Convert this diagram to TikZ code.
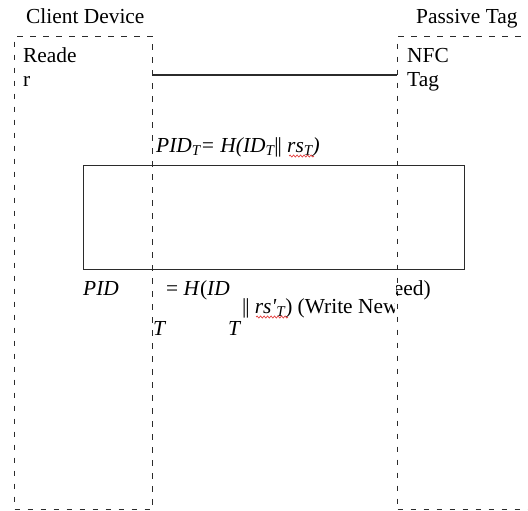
\documentclass[tikz,border=0pt]{standalone}
\usepackage{fontspec}
\setmainfont{Liberation Serif}
\usepackage{tikz}
\usetikzlibrary{calc,positioning,decorations.pathmorphing}
\definecolor{linec}{HTML}{2B2B2B}
\definecolor{spellc}{HTML}{E23A3A}
\tikzset{
  zone/.style={draw=linec,line width=1.4pt,dash pattern=on 5.5pt off 7.5pt,inner sep=0pt},
  frame/.style={draw=linec,line width=1.4pt,inner sep=0pt},
  link/.style={linec,line width=1.7pt},
  lbl/.style={font=\fontsize{21.4}{24}\selectfont,inner sep=0pt,text=black},
  squig/.style={spellc,line width=0.7pt,decorate,decoration={snake,amplitude=1pt,segment length=3.5pt}}
}
\newcommand{\dbar}{\textup{|\kern-1.2pt|}}
\newcommand{\subT}{\textsubscript{\itshape T}}
\begin{document}
\begin{tikzpicture}[x=1pt,y=-1pt]
\useasboundingbox (0,0) rectangle (528,511);
\clip (0,0) rectangle (528,511);
% zones
\node[zone,minimum width=138pt,minimum height=473pt,anchor=north west] (reader) at (14,36) {};
\node[zone,minimum width=150pt,minimum height=473pt,anchor=north west] (tag) at (397,36) {};
\node[lbl,anchor=base west] (devtitle) at (26,24) {Client Device};
\node[lbl,anchor=base west] (tagtitle) at (416,24) {Passive Tag};
\node[lbl,anchor=base west] (readername) at (23,63) {Reade};
\node[lbl,anchor=base west] (readerrest) at (23,87) {r};
\node[lbl,anchor=base west] (tagname) at (407,63) {NFC};
\node[lbl,anchor=base west] (tagrest) at (407,87) {Tag};
% link
\coordinate (linky) at (0,75);
\draw[link] (reader.east |- linky) -- (tag.west |- linky);
% message
\node[frame,minimum width=381pt,minimum height=104pt,anchor=north west] (msgbox) at (83,165) {};
\node[lbl,anchor=base west] (pidtop) at (156,152)
  {\itshape PID\subT= H(ID\subT\dbar\ rs\subT)};
\draw[squig] (289,156) -- (314,156);
% update
\node[lbl,anchor=base west] (pidlow) at (83,295) {\itshape PID};
\node[lbl,anchor=base west] (hashlow) at (166,295) {= \textit{H}(\textit{ID}};
\begin{scope}
\clip (396,270) rectangle (440,305);
\node[lbl,anchor=base east] (seedtxt) at (431,295) {Seed)};
\end{scope}
\begin{scope}
\clip (200,298) rectangle (394,322);
\node[lbl,anchor=base west] (writetxt) at (242,313) {\dbar\ \textit{rs\textquotesingle}\subT) (Write New};
\end{scope}
\draw[squig] (256,317) -- (288,317);
\node[lbl,anchor=base west] (subone) at (153,335) {\itshape T};
\node[lbl,anchor=base west] (subtwo) at (228,335) {\itshape T};
\end{tikzpicture}
\end{document}
